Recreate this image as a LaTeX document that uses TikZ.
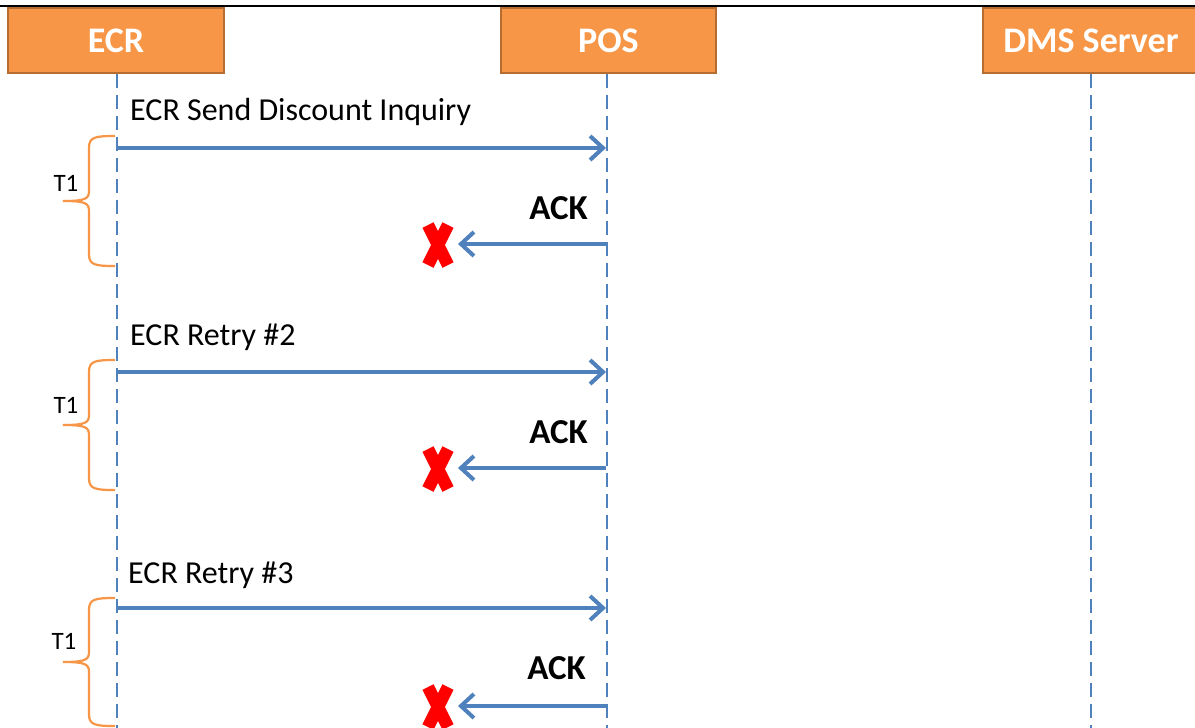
\documentclass[tikz,border=0pt]{standalone}
\usepackage{fontspec}
\setmainfont{Carlito}
\usetikzlibrary{arrows.meta}
\definecolor{boxfill}{HTML}{F79646}
\definecolor{boxline}{HTML}{B66D31}
\definecolor{msgblue}{HTML}{4F81BD}
\definecolor{bracecol}{HTML}{F79646}
\definecolor{xred}{HTML}{FF0000}
\begin{document}
\begin{tikzpicture}[x=1pt,y=-1pt,
  actor/.style={draw=boxline, line width=2.5pt, fill=boxfill, text=white, font=\fontsize{36}{40}\selectfont\bfseries, minimum height=65pt, inner sep=0pt},
  lifeline/.style={draw=msgblue, line width=2.4pt, dash pattern=on 14pt off 7pt},
  msg/.style={draw=msgblue, line width=4.5pt, -{Straight Barb[length=13pt,width=24pt,line width=4pt]}},
  msglabel/.style={font=\fontsize{32}{38}\selectfont, anchor=base west, inner sep=0pt},
  acklabel/.style={font=\fontsize{35}{40}\selectfont\bfseries, anchor=base east, inner sep=0pt},
  tlabel/.style={font=\fontsize{25}{30}\selectfont, inner sep=0pt},
  lostx/.style={draw=xred, line width=12.5pt},
  bracepath/.style={draw=bracecol, line width=2.2pt}
]
\useasboundingbox (0,0) rectangle (1195,728);
\fill[white] (0,0) rectangle (1195,728);
% top rule
\draw[black, line width=2pt] (0,6) -- (1195,6);
% actors
\node[actor, minimum width=216pt] (ecr) at (116,40.5) {ECR};
\node[actor, minimum width=215pt] (pos) at (608.5,40.5) {POS};
\node[actor, minimum width=216pt] (dms) at (1091,40.5) {DMS Server};
% lifeline ends
\coordinate (ecrend) at (117,728);
\coordinate (posend) at (607,728);
\coordinate (dmsend) at (1091,728);
\draw[lifeline] (ecr.south -| ecrend) -- (ecrend);
\draw[lifeline] (pos.south -| posend) -- (posend);
\draw[lifeline] (dms.south -| dmsend) -- (dmsend);

% group 1
\coordinate (e1) at (117,148); \coordinate (p1) at (606,148);
\coordinate (a1) at (606,244); \coordinate (x1) at (458,244);
\draw[msg] (e1) -- (p1);
\node[msglabel] (l1) at (130,120) {ECR Send Discount Inquiry};
\draw[msg] (a1) -- (x1);
\node[acklabel] (k1) at (588,219) {ACK};
\node[inner sep=0pt, minimum size=1pt] (c1) at (438,245) {};
\draw[lostx] ([shift={(-10,-20)}]c1.center) -- ([shift={(10,20)}]c1.center);
\draw[lostx] ([shift={(10,-20)}]c1.center) -- ([shift={(-10,20)}]c1.center);
\draw[bracepath] (115,136) .. controls (95,136) and (89,137) .. (89,148) -- (89,191)
  .. controls (89,199) and (85,201) .. (63,201) .. controls (85,201) and (89,203) .. (89,211)
  -- (89,254) .. controls (89,265) and (95,266) .. (115,266);
\node[tlabel] (t1) at (66,183) {T1};

% group 2
\coordinate (e2) at (117,372); \coordinate (p2) at (606,372);
\coordinate (a2) at (606,468); \coordinate (x2) at (458,468);
\draw[msg] (e2) -- (p2);
\node[msglabel] (l2) at (130,345) {ECR Retry \#2};
\draw[msg] (a2) -- (x2);
\node[acklabel] (k2) at (588,443) {ACK};
\node[inner sep=0pt, minimum size=1pt] (c2) at (438,469) {};
\draw[lostx] ([shift={(-10,-20)}]c2.center) -- ([shift={(10,20)}]c2.center);
\draw[lostx] ([shift={(10,-20)}]c2.center) -- ([shift={(-10,20)}]c2.center);
\draw[bracepath] (115,360) .. controls (95,360) and (89,361) .. (89,372) -- (89,415)
  .. controls (89,423) and (85,425) .. (63,425) .. controls (85,425) and (89,427) .. (89,435)
  -- (89,478) .. controls (89,489) and (95,490) .. (115,490);
\node[tlabel] (t2) at (66,405) {T1};

% group 3
\coordinate (e3) at (117,608); \coordinate (p3) at (606,608);
\coordinate (a3) at (606,706); \coordinate (x3) at (458,706);
\draw[msg] (e3) -- (p3);
\node[msglabel] (l3) at (128,583) {ECR Retry \#3};
\draw[msg] (a3) -- (x3);
\node[acklabel] (k3) at (586,679) {ACK};
\node[inner sep=0pt, minimum size=1pt] (c3) at (438,707) {};
\draw[lostx] ([shift={(-10,-20)}]c3.center) -- ([shift={(10,20)}]c3.center);
\draw[lostx] ([shift={(10,-20)}]c3.center) -- ([shift={(-10,20)}]c3.center);
\draw[bracepath] (115,598) .. controls (95,598) and (89,599) .. (89,610) -- (89,652)
  .. controls (89,660) and (85,662) .. (63,662) .. controls (85,662) and (89,664) .. (89,672)
  -- (89,714) .. controls (89,725) and (95,726) .. (115,726);
\node[tlabel] (t3) at (64,641) {T1};
\end{tikzpicture}
\end{document}
